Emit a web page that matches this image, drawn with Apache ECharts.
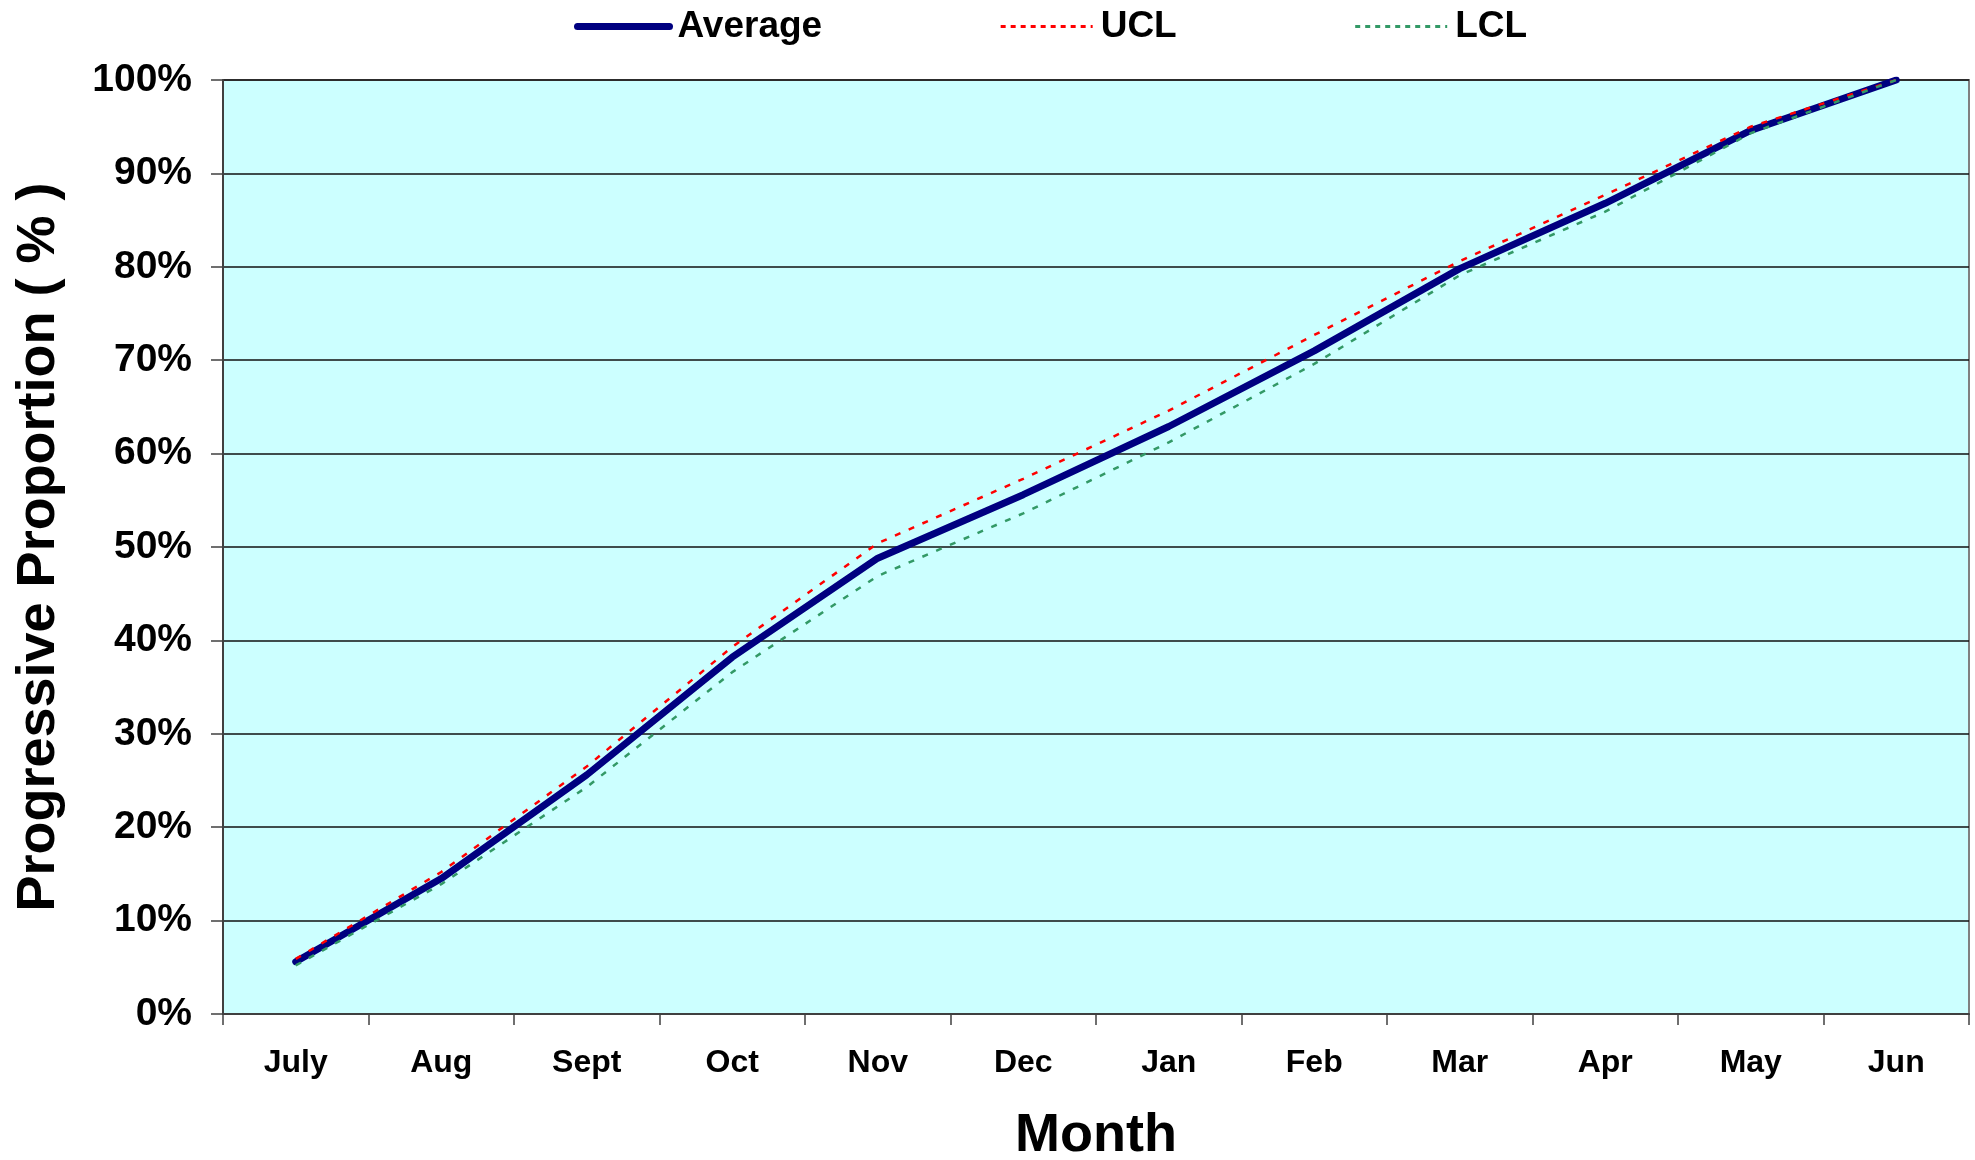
<!DOCTYPE html>
<html>
<head>
<meta charset="utf-8">
<script src="https://cdn.jsdelivr.net/npm/echarts@6/dist/echarts.min.js"></script>
<style>
  html, body { margin: 0; padding: 0; background: #fff; overflow: hidden; }
  #chart { width: 1975px; height: 1160px; }
</style>
</head>
<body>
<div id="chart"></div>
<script>
const months = ["July", "Aug", "Sept", "Oct", "Nov", "Dec", "Jan", "Feb", "Mar", "Apr", "May", "Jun"];
const average = [5.6, 14.5, 25.6, 38.2, 48.8, 55.6, 62.9, 71.0, 79.8, 86.8, 94.6, 100];
const ucl = [5.9, 15.2, 26.5, 39.3, 50.4, 57.3, 64.6, 72.7, 80.6, 87.7, 95.0, 100];
const lcl = [5.2, 13.9, 24.3, 36.6, 46.9, 53.6, 61.2, 69.6, 79.1, 85.9, 94.3, 100];
const yTicks = { min: 0, max: 100, step: 10 };

const FONT = "'Liberation Sans', Arial, sans-serif";
const chart = echarts.init(document.querySelector("#chart"));

chart.setOption({
  animation: false,
  textStyle: { fontFamily: FONT },
  legend: {
    left: 569,
    top: 3,
    itemWidth: 92,
    itemHeight: 14,
    itemGap: 177,
    textStyle: { fontSize: 37, fontWeight: "bold", color: "#000", fontFamily: FONT, padding: [0, 0, 0, 3] },
    data: [
      { name: "Average", itemStyle: { opacity: 0 }, lineStyle: { width: 7, color: "#000080", type: "solid", cap: "round" } },
      { name: "UCL", itemStyle: { opacity: 0 }, lineStyle: { width: 3, color: "#ff0000", type: [5, 5] } },
      { name: "LCL", itemStyle: { opacity: 0 }, lineStyle: { width: 3, color: "#339966", type: [5, 5] } }
    ]
  },
  grid: {
    left: 223, right: 6, top: 80, bottom: 146,
    outerBoundsMode: "none",
    containLabel: false,
    show: true,
    backgroundColor: "#ccffff",
    borderColor: "#808080",
    borderWidth: 2
  },
  xAxis: {
    type: "category",
    data: months,
    boundaryGap: true,
    name: "Month",
    nameLocation: "middle",
    nameGap: 95,
    nameTextStyle: { fontSize: 54, fontWeight: "bold", color: "#000", fontFamily: FONT },
    axisLine: { lineStyle: { color: "#404040", width: 2 } },
    axisTick: { show: true, alignWithLabel: false, length: 11, lineStyle: { color: "#404040", width: 1.5 } },
    axisLabel: { margin: 33, fontSize: 32, fontWeight: "bold", color: "#000", fontFamily: FONT }
  },
  yAxis: {
    type: "value",
    min: yTicks.min,
    max: yTicks.max,
    interval: yTicks.step,
    name: "Progressive Proportion ( % )",
    nameLocation: "middle",
    nameGap: 157,
    nameTextStyle: { fontSize: 54, fontWeight: "bold", color: "#000", fontFamily: FONT },
    axisLine: { show: true, lineStyle: { color: "#404040", width: 2 } },
    axisTick: { show: true, length: 12, lineStyle: { color: "#404040", width: 1.5 } },
    axisLabel: { margin: 31, fontSize: 39, fontWeight: "bold", color: "#000", fontFamily: FONT, formatter: "{value}%" },
    splitLine: { show: true, lineStyle: { color: "#111", width: 1.5 } }
  },
  series: [
    {
      name: "Average",
      type: "line",
      data: average,
      symbol: "none",
      lineStyle: { color: "#000080", width: 7, cap: "round", join: "round" },
      itemStyle: { color: "#000080" }
    },
    {
      name: "UCL",
      type: "line",
      data: ucl,
      symbol: "none",
      lineStyle: { color: "#ff0000", width: 2.5, type: [6, 9] },
      itemStyle: { color: "#ff0000" }
    },
    {
      name: "LCL",
      type: "line",
      data: lcl,
      symbol: "none",
      lineStyle: { color: "#339966", width: 2.5, type: [6, 9] },
      itemStyle: { color: "#339966" }
    }
  ]
});
</script>
</body>
</html>
